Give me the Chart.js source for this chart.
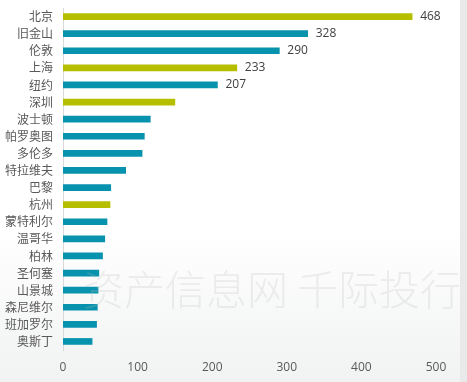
<!DOCTYPE html>
<html lang="zh">
<head>
    <meta charset="UTF-8">
    <title>城市排名</title>
    <style>
        html, body { margin: 0; padding: 0; background: #ffffff; }
        #wrap { width: 467px; height: 382px; position: relative; }
    </style>
</head>
<body>
    <div id="wrap">
        <canvas id="cityChart" width="467" height="382"></canvas>
    </div>

    <script src="https://cdn.jsdelivr.net/npm/chart.js"></script>
    <script>
        // data
        const cities = ['北京', '旧金山', '伦敦', '上海', '纽约', '深圳', '波士顿', '帕罗奥图', '多伦多', '特拉维夫',
                        '巴黎', '杭州', '蒙特利尔', '温哥华', '柏林', '圣何塞', '山景城', '森尼维尔', '班加罗尔', '奥斯丁'];
        const values = [468, 328, 290, 233, 207, 150, 117, 109, 106, 84,
                        64, 63, 59, 56, 53, 48, 47, 46, 45, 39];
        const isChina = [true, false, false, true, false, true, false, false, false, false,
                         false, true, false, false, false, false, false, false, false, false];
        const labelledCount = 5; // only the top five carry a value label
        const xTicks = [0, 100, 200, 300, 400, 500];
        const watermark = '资产信息网 千际投行';

        const yellow = '#b6be00';
        const teal = '#0792ae';
        const cjkFont = '"Noto Sans CJK SC", "Noto Sans", sans-serif';

        // page background: white with grey fade at the bottom and a grey strip at the right
        const backgroundPlugin = {
            id: 'bg',
            beforeDraw(chart) {
                const ctx = chart.ctx;
                const w = chart.width, h = chart.height;
                ctx.save();
                const g = ctx.createLinearGradient(0, 230, 0, h);
                g.addColorStop(0, '#ffffff');
                g.addColorStop(1, '#f1f2f2');
                ctx.fillStyle = g;
                ctx.fillRect(0, 0, w, h);
                ctx.fillStyle = '#e9e9e9';
                ctx.fillRect(460, 0, w - 460, h);
                ctx.restore();
            }
        };

        const valueLabelPlugin = {
            id: 'valueLabels',
            afterDatasetsDraw(chart) {
                const ctx = chart.ctx;
                const meta = chart.getDatasetMeta(0);
                ctx.save();
                ctx.font = '12px "Open Sans", "Noto Sans", sans-serif';
                ctx.fillStyle = '#404040';
                ctx.textBaseline = 'middle';
                ctx.textAlign = 'left';
                meta.data.forEach((bar, i) => {
                    if (i >= labelledCount) return;
                    ctx.fillText(String(values[i]), bar.x + 8, bar.y);
                });
                ctx.restore();
            }
        };

        const watermarkPlugin = {
            id: 'watermark',
            afterDraw(chart) {
                const ctx = chart.ctx;
                ctx.save();
                ctx.font = '300 41px ' + cjkFont;
                ctx.fillStyle = 'rgba(190, 190, 190, 0.24)';
                ctx.textBaseline = 'middle';
                ctx.textAlign = 'left';
                ctx.fillText(watermark, 83, 289);
                ctx.restore();
            }
        };

        const ctx = document.getElementById('cityChart').getContext('2d');
        new Chart(ctx, {
            type: 'bar',
            data: {
                labels: cities,
                datasets: [{
                    data: values,
                    backgroundColor: isChina.map(c => c ? yellow : teal),
                    barThickness: 6,
                    borderWidth: 0
                }]
            },
            options: {
                indexAxis: 'y',
                responsive: false,
                animation: false,
                layout: { padding: { top: 8, right: 31, left: 0, bottom: 0 } },
                plugins: {
                    legend: { display: false },
                    tooltip: { enabled: false }
                },
                scales: {
                    x: {
                        min: 0,
                        max: 500,
                        afterBuildTicks(scale) {
                            scale.ticks = xTicks.map(v => ({ value: v }));
                        },
                        afterFit(scale) { scale.height = 32; },
                        grid: { display: false, drawTicks: false },
                        border: { display: false },
                        ticks: {
                            padding: 10,
                            color: '#595959',
                            font: { size: 12, family: '"Open Sans", "Noto Sans", sans-serif' }
                        }
                    },
                    y: {
                        afterFit(scale) {
                            scale.width = 63;
                            scale.paddingTop = 0;
                            scale.paddingBottom = 0;
                        },
                        grid: { display: false, drawTicks: false },
                        border: { display: true, color: '#d9d9d9', width: 1 },
                        ticks: {
                            padding: 10,
                            color: '#595959',
                            autoSkip: false,
                            font: { size: 12, family: cjkFont }
                        }
                    }
                }
            },
            plugins: [backgroundPlugin, valueLabelPlugin, watermarkPlugin]
        });
    </script>
</body>
</html>
